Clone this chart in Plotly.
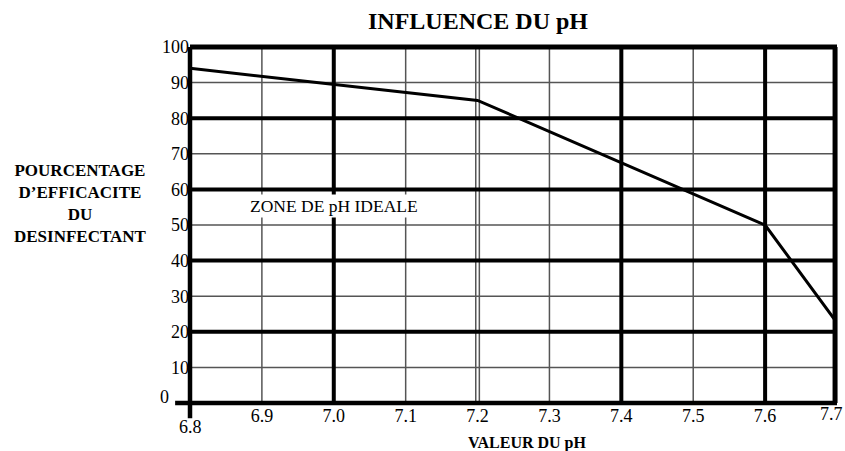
import plotly.graph_objects as go

# Data
ph_values = [6.8, 7.2, 7.6, 7.7]
efficacite = [94, 85, 50, 22.5]

x_tick_vals = [6.9, 7.0, 7.1, 7.2, 7.3, 7.4, 7.5, 7.6]
x_tick_text = ["6.9", "7.0", "7.1", "7.2", "7.3", "7.4", "7.5", "7.6"]
y_tick_vals = [10, 20, 30, 40, 50, 60, 70, 80, 90, 100]
y_tick_text = ["10", "20", "30", "40", "50", "60", "70", "80", "90", "100"]

x_thick_grid = [7.0, 7.4, 7.6]
x_thin_grid = [6.9, 7.1, 7.3, 7.5]
x_double_grid = [7.1975, 7.2025]
y_thick_grid = [20, 40, 60, 80]
y_thin_grid = [10, 30, 50, 70, 90]

SERIF = "Liberation Serif, Times New Roman, serif"
TICK_SIZE = 18

shapes = []
for x in x_thin_grid + x_double_grid:
    shapes.append(dict(type="line", xref="x", yref="y", x0=x, x1=x, y0=0, y1=100,
                       line=dict(color="#555555", width=1.5), layer="below"))
for y in y_thin_grid:
    shapes.append(dict(type="line", xref="x", yref="y", x0=6.8, x1=7.7, y0=y, y1=y,
                       line=dict(color="#555555", width=1.5), layer="below"))
for x in x_thick_grid:
    shapes.append(dict(type="line", xref="x", yref="y", x0=x, x1=x, y0=0, y1=100,
                       line=dict(color="black", width=4), layer="below"))
for y in y_thick_grid:
    shapes.append(dict(type="line", xref="x", yref="y", x0=6.8, x1=7.7, y0=y, y1=y,
                       line=dict(color="black", width=4), layer="below"))
# frame
shapes.append(dict(type="line", xref="paper", yref="paper", x0=-0.023, x1=1, y0=0, y1=0,
                   line=dict(color="black", width=4.5)))
shapes.append(dict(type="line", xref="paper", yref="paper", x0=0, x1=0, y0=-0.043, y1=1,
                   line=dict(color="black", width=4.5)))
shapes.append(dict(type="line", xref="paper", yref="paper", x0=0, x1=1, y0=1, y1=1,
                   line=dict(color="black", width=5)))
shapes.append(dict(type="line", xref="paper", yref="paper", x0=0.997, x1=0.997, y0=0, y1=1,
                   line=dict(color="black", width=5)))

fig = go.Figure()
fig.add_trace(go.Scatter(x=ph_values, y=efficacite, mode="lines",
                         line=dict(color="black", width=3), hoverinfo="skip",
                         showlegend=False, cliponaxis=False))

annotations = [
    dict(text="<b>INFLUENCE DU pH</b>", xref="paper", yref="paper", x=0.445, y=1.073,
         xanchor="center", yanchor="middle", showarrow=False,
         font=dict(family=SERIF, size=24, color="black")),
    dict(text="<b>POURCENTAGE<br>D\u2019EFFICACITE<br>DU<br>DESINFECTANT</b>",
         xref="paper", yref="paper", x=-0.169, y=0.56, xanchor="center", yanchor="middle",
         showarrow=False, align="center",
         font=dict(family=SERIF, size=17, color="black")),
    dict(text="<b>VALEUR DU pH</b>", xref="paper", yref="paper", x=0.521, y=-0.113,
         xanchor="center", yanchor="middle", showarrow=False,
         font=dict(family=SERIF, size=16, color="black")),
    dict(text="ZONE DE pH IDEALE", xref="paper", yref="paper", x=0.089, y=0.552,
         xanchor="left", yanchor="middle", showarrow=False, bgcolor="white",
         font=dict(family=SERIF, size=17.5, color="black")),
    dict(text="0", xref="paper", yref="paper", x=-0.04, y=0.017,
         xanchor="center", yanchor="middle", showarrow=False,
         font=dict(family=SERIF, size=TICK_SIZE, color="black")),
    dict(text="6.8", xref="x", yref="paper", x=6.8, y=-0.068,
         xanchor="center", yanchor="middle", showarrow=False,
         font=dict(family=SERIF, size=TICK_SIZE, color="black")),
    dict(text="7.7", xref="paper", yref="paper", x=1.013, y=-0.031,
         xanchor="right", yanchor="middle", showarrow=False,
         font=dict(family=SERIF, size=TICK_SIZE, color="black")),
]

fig.update_layout(
    width=845, height=451,
    margin=dict(l=190, r=8, t=47, b=48, autoexpand=False),
    paper_bgcolor="white", plot_bgcolor="white",
    shapes=shapes, annotations=annotations,
    xaxis=dict(range=[6.8, 7.7], showgrid=False, zeroline=False, showline=False,
               tickvals=x_tick_vals, ticktext=x_tick_text, ticks="",
               automargin=False,
               tickfont=dict(family=SERIF, size=TICK_SIZE, color="black")),
    yaxis=dict(range=[0, 100], showgrid=False, zeroline=False, showline=False,
               tickvals=y_tick_vals, ticktext=y_tick_text, ticks="",
               automargin=False,
               tickfont=dict(family=SERIF, size=TICK_SIZE, color="black")),
)

fig.write_html("out.html", config={"displayModeBar": False},
               post_script="document.body.style.margin='0';document.body.style.padding='0';")
